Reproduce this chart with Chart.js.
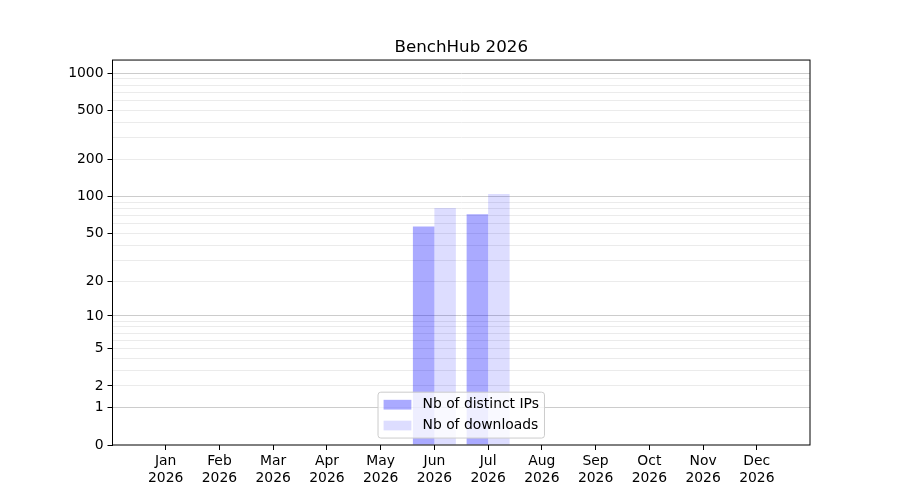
<!DOCTYPE html>
<html>
<head>
<meta charset="utf-8">
<script src="https://cdn.jsdelivr.net/npm/chart.js@4.4.0/dist/chart.umd.min.js"></script>
<style>
  html, body { margin: 0; padding: 0; background: #fff; }
  #wrap { width: 900px; height: 500px; }
</style>
</head>
<body>
<div id="wrap"><canvas id="myChart" width="900" height="500"></canvas></div>
<script>
const months = ["Jan", "Feb", "Mar", "Apr", "May", "Jun", "Jul", "Aug", "Sep", "Oct", "Nov", "Dec"]
const year = "2026"
const distinctIPs = [0, 0, 0, 0, 0, 57, 72, 0, 0, 0, 0, 0]
const downloads = [0, 0, 0, 0, 0, 81, 105, 0, 0, 0, 0, 0]
const yTickLabels = [0, 1, 2, 5, 10, 20, 50, 100, 200, 500, 1000]
const yGridValues = [0, 1, 2, 3, 4, 5, 6, 7, 8, 9, 10, 20, 30, 40, 50, 60, 70, 80, 90,
  100, 200, 300, 400, 500, 600, 700, 800, 900, 1000]
const yMajorGrid = [1, 10, 100, 1000]

// axe y en log10(1 + v)
const t = v => Math.log10(1 + v)

class Log1pScale extends Chart.LinearScale {
  static id = "log1p"
  static defaults = Chart.LinearScale.defaults
  determineDataLimits() {
    this.min = this.options.min
    this.max = this.options.max
  }
  buildTicks() {
    this.start = this.min
    this.end = this.max
    return yGridValues.map(v => ({ value: v }))
  }
  getPixelForValue(value) {
    return this.getPixelForDecimal((t(value) - t(this.min)) / (t(this.max) - t(this.min)))
  }
  getValueForPixel(pixel) {
    const d = this.getDecimalForPixel(pixel)
    return Math.pow(10, t(this.min) + d * (t(this.max) - t(this.min))) - 1
  }
}
Chart.register(Log1pScale)

const framePlugin = {
  id: "frame",
  afterDraw(chart) {
    const { ctx, chartArea: a } = chart
    ctx.save()
    ctx.strokeStyle = "#000"
    ctx.lineWidth = 1
    ctx.strokeRect(a.left, a.top, a.right - a.left, a.bottom - a.top)
    ctx.restore()
  },
}

const legendPlugin = {
  id: "boxLegend",
  afterDraw(chart) {
    const { ctx, chartArea: a } = chart
    const fs = 13.9
    const sets = chart.data.datasets
    ctx.save()
    ctx.font = fs + 'px "DejaVu Sans"'
    const textW = Math.max(...sets.map(d => ctx.measureText(d.label).width))
    const pad = 0.4 * fs, handleW = 2 * fs, gap = 0.8 * fs, rowH = fs, spacing = 0.5 * fs
    const w = pad * 2 + handleW + gap + textW
    const h = pad * 2 + rowH * sets.length + spacing * (sets.length - 1)
    const x = (a.left + a.right) / 2 - w / 2
    const y = a.bottom - 0.5 * fs - h
    ctx.beginPath()
    ctx.roundRect(x, y, w, h, 0.2 * fs)
    ctx.fillStyle = "rgba(255,255,255,0.8)"
    ctx.fill()
    ctx.strokeStyle = "#cccccc"
    ctx.lineWidth = 1
    ctx.stroke()
    sets.forEach((d, i) => {
      const cy = y + pad + (rowH + spacing) * i + rowH / 2
      ctx.fillStyle = d.backgroundColor
      ctx.fillRect(x + pad, cy - 0.35 * fs, handleW, 0.7 * fs)
      ctx.fillStyle = "#000"
      ctx.textBaseline = "middle"
      ctx.fillText(d.label, x + pad + handleW + gap, cy)
    })
    ctx.restore()
  },
}

const font = { family: "DejaVu Sans", size: 13.9, lineHeight: 1.2 }

const data = {
  datasets: [
    {
      label: "Nb of distinct IPs",
      backgroundColor: "rgba(0,0,255,0.333)",
      borderWidth: 0,
      data: distinctIPs.map((v, i) => ({ x: i, y: v })),
    },
    {
      label: "Nb of downloads",
      backgroundColor: "rgba(0,0,255,0.133)",
      borderWidth: 0,
      data: downloads.map((v, i) => ({ x: i, y: v })),
    },
  ],
}

const config = {
  type: "bar",
  data: data,
  options: {
    responsive: false,
    animation: false,
    devicePixelRatio: 1,
    categoryPercentage: 0.8,
    barPercentage: 1.0,
    layout: { padding: { left: 0, right: 90, top: 0, bottom: 0 } },
    plugins: {
      legend: { display: false },
      tooltip: { enabled: false },
      title: {
        display: true,
        fullSize: false,
        text: "BenchHub 2026",
        color: "#000",
        font: { family: "DejaVu Sans", size: 16.7, weight: "normal", lineHeight: 1.2 },
        padding: { top: 38, bottom: 2 },
      },
    },
    scales: {
      x: {
        type: "linear",
        min: -0.99,
        max: 11.99,
        offset: false,
        afterFit: s => { s.height = 55 },
        afterBuildTicks: s => { s.ticks = months.map((m, i) => ({ value: i })) },
        border: { display: false },
        grid: { offset: false, drawOnChartArea: false, tickLength: 5, color: "#000", tickWidth: 1 },
        ticks: {
          autoSkip: false,
          maxRotation: 0,
          padding: 3,
          color: "#000",
          font: font,
          callback: v => [months[v], year],
        },
      },
      y: {
        type: "log1p",
        min: 0,
        max: 1280,
        afterFit: s => { s.width = 112.5 },
        border: { display: false },
        grid: {
          lineWidth: 1,
          tickLength: 5,
          color: c => (yMajorGrid.includes(c.tick.value) ? "#cccccc" : c.tick.value === 0 ? "rgba(0,0,0,0)" : "#ebebeb"),
          tickColor: c => (yTickLabels.includes(c.tick.value) ? "#000" : "rgba(0,0,0,0)"),
        },
        ticks: {
          autoSkip: false,
          padding: 4,
          color: "#000",
          font: font,
          callback: v => (yTickLabels.includes(v) ? String(v) : ""),
        },
      },
    },
  },
  plugins: [framePlugin, legendPlugin],
}

const myChart = new Chart(document.getElementById("myChart"), config)
</script>
</body>
</html>
